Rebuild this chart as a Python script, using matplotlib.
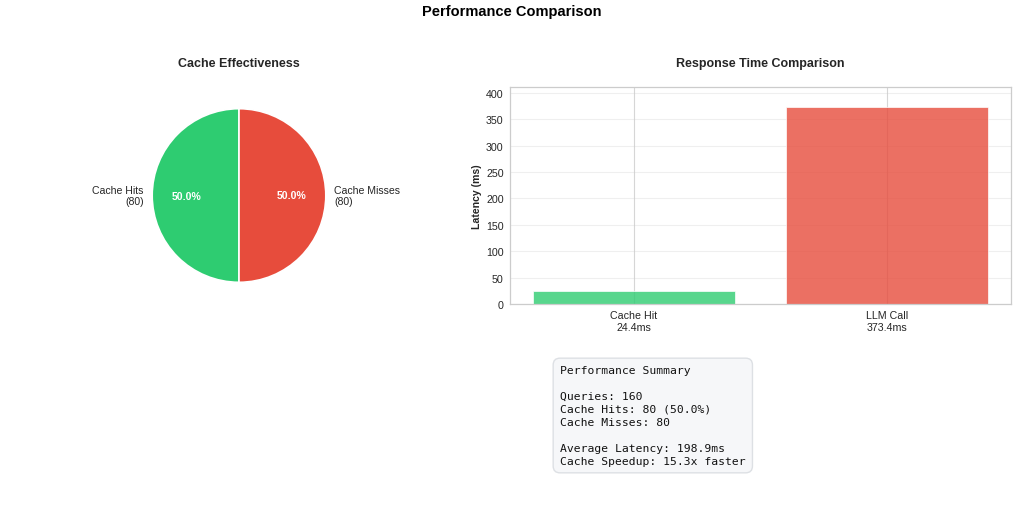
import matplotlib
matplotlib.use("Agg")
import matplotlib.pyplot as plt
import seaborn as sns

sns.set_style("whitegrid")
plt.rcParams['font.family'] = ['Liberation Sans', 'DejaVu Sans']

# ---- data ----
pie_labels = ["Cache Hits\n(80)", "Cache Misses\n(80)"]
pie_values = [80, 80]
pie_colors = ["#2ecc71", "#e74c3c"]

bar_categories = ["Cache Hit", "LLM Call"]
bar_values = [24.4, 373.4]
bar_colors = ["#2ecc71", "#e74c3c"]

queries = 160
hits = 80
misses = 80
avg_latency = 198.9
speedup = 15.3

W, H = 1024, 506
fig = plt.figure(figsize=(W / 100, H / 100), dpi=100)

def px_axes(x0, y0, x1, y1):
    return fig.add_axes([x0 / W, 1 - y1 / H, (x1 - x0) / W, (y1 - y0) / H])

fig.suptitle("Performance Comparison", fontsize=10.5, fontweight="bold",
             y=1 - 5 / H, va="top", color="black")

# ---- pie ----
ax1 = px_axes(239 - 108.5, 88, 239 + 108.5, 305)
wedges, texts, autotexts = ax1.pie(
    pie_values, labels=pie_labels, colors=pie_colors, autopct="%1.1f%%",
    startangle=90, wedgeprops=dict(edgecolor="white", linewidth=1.2),
    textprops=dict(fontsize=7.6, color=".15"))
for t in autotexts:
    t.set_color("white")
    t.set_fontweight("bold")
    t.set_fontsize(7.6)
ax1.set_title("Cache Effectiveness", fontsize=9, fontweight="bold", pad=15)

# ---- bars ----
ax2 = px_axes(510, 88, 1011, 305)
xt = [f"{c}\n{v:.1f}ms" for c, v in zip(bar_categories, bar_values)]
ax2.bar(range(len(bar_values)), bar_values, color=bar_colors, alpha=0.8,
        edgecolor="white", linewidth=0.6)
ax2.set_xticks(range(len(bar_values)))
ax2.set_xticklabels(xt)
ax2.set_ylim(0, max(bar_values) * 1.1)
ax2.set_ylabel("Latency (ms)", fontsize=7.6, fontweight="bold", labelpad=3)
ax2.set_title("Response Time Comparison", fontsize=9, fontweight="bold", pad=15)
ax2.grid(axis="y", alpha=0.3)
ax2.tick_params(labelsize=7.7, pad=1, colors=".15")
for s in ax2.spines.values():
    s.set_color("#cccccc")
    s.set_linewidth(0.9)
ax2.xaxis.grid(True, color="#d6d6d6", linewidth=0.8)
ax2.set_axisbelow(True)

# ---- summary ----
summary = (
    "Performance Summary\n\n"
    f"Queries: {queries}\n"
    f"Cache Hits: {hits} ({hits / queries * 100:.1f}%)\n"
    f"Cache Misses: {misses}\n\n"
    f"Average Latency: {avg_latency:.1f}ms\n"
    f"Cache Speedup: {speedup:.1f}x faster"
)
fig.text(560 / W, 1 - 366 / H, summary, family="DejaVu Sans Mono",
         fontsize=8.2, va="top", ha="left", color="#111111", linespacing=1.375,
         bbox=dict(boxstyle="round,pad=0.6", facecolor="#f6f7f9",
                   edgecolor="#dde0e4", linewidth=1.0))

fig.savefig("out.png", dpi=100)
